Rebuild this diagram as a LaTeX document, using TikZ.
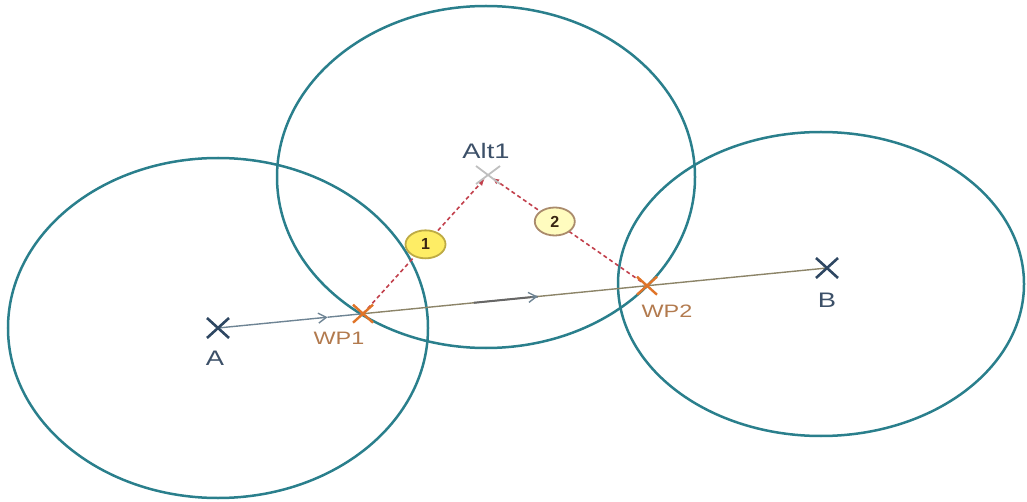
\documentclass[tikz,border=0pt]{standalone}
\usepackage{fontspec}
\setmainfont{Liberation Sans}
\usetikzlibrary{shapes.geometric,arrows.meta,calc}
\definecolor{ring}{HTML}{2A7F8C}
\definecolor{darkx}{HTML}{2E4762}
\definecolor{wpx}{HTML}{E07428}
\definecolor{wptext}{HTML}{B27A4E}
\definecolor{ptext}{HTML}{3C5068}
\definecolor{redd}{HTML}{C2404C}
\definecolor{lineA}{HTML}{6E8494}
\definecolor{lineB}{HTML}{8C8468}
\begin{document}
\begin{tikzpicture}[x=1pt,y=-1pt,
  ringst/.style={draw=ring,line width=2.5pt},
  darkcross/.style={draw=darkx,line width=2.6pt},
  wpcross/.style={draw=wpx,line width=2.4pt},
  altcross/.style={draw=black!25,line width=1.8pt},
  ptlabel/.style={text=ptext,font=\fontsize{21}{21}\selectfont,xscale=1.3,inner sep=0pt},
  wplabel/.style={text=wptext,font=\fontsize{18}{18}\selectfont,xscale=1.3,inner sep=0pt},
  redline/.style={draw=redd,line width=1.6pt,dash pattern=on 4pt off 3pt,-{Latex[length=7pt,width=6pt]},shorten >=5pt},
  badge/.style={ellipse,draw,solid,line width=1.8pt,minimum width=40pt,minimum height=28pt,inner sep=0pt,font=\bfseries\fontsize{16}{16}\selectfont,text=black!70!brown},
  route/.style={line width=1.4pt}
]
\useasboundingbox (0,0) rectangle (1027,502);
% points
\coordinate (A) at (218,328);
\coordinate (B) at (827,268);
\coordinate (WP1) at (363,313.7);
\coordinate (WP2) at (647,285.7);
\coordinate (Alt1) at (488,175);
\coordinate (arr1) at ($(A)!0.18!(B)$);
\coordinate (arr2) at ($(A)!0.525!(B)$);
\coordinate (dk1) at ($(A)!0.42!(B)$);
% circles
\draw[ringst] (218,328) ellipse [x radius=210, y radius=170];
\draw[ringst] (486,177) ellipse [x radius=209, y radius=171];
\draw[ringst] (821,284) ellipse [x radius=203, y radius=152];
% route
\draw[route,lineA,-{Straight Barb[length=8pt,width=10pt]}] (A) -- (arr1);
\draw[route,lineA] (arr1) -- (WP1);
\draw[route,lineB] (WP1) -- (B);
\draw[line width=2pt,black!60] (dk1) -- (arr2);
\draw[route,lineA,-{Straight Barb[length=8pt,width=10pt]}] ($(dk1)!0.9!(arr2)$) -- (arr2);
% red dashed legs
\draw[redline] (WP1) -- (Alt1) node[pos=0.5,badge,fill=yellow!85!orange!60,draw=black!30!yellow!70!brown] (b1) {1};
\draw[redline] (WP2) -- (Alt1) node[pos=0.58,badge,fill=yellow!25,draw=brown!70!black!70] (b2) {2};
% crosses
\draw[darkcross] ($(A)+(-11,-10)$) -- ($(A)+(11,10)$) ($(A)+(-11,10)$) -- ($(A)+(11,-10)$);
\draw[darkcross] ($(B)+(-11,-10)$) -- ($(B)+(11,10)$) ($(B)+(-11,10)$) -- ($(B)+(11,-10)$);
\draw[wpcross] ($(WP1)+(-10,-9)$) -- ($(WP1)+(10,9)$) ($(WP1)+(-10,9)$) -- ($(WP1)+(10,-9)$);
\draw[wpcross] ($(WP2)+(-10,-9)$) -- ($(WP2)+(10,9)$) ($(WP2)+(-10,9)$) -- ($(WP2)+(10,-9)$);
\draw[altcross] ($(Alt1)+(-12,-9)$) -- ($(Alt1)+(12,9)$) ($(Alt1)+(-12,9)$) -- ($(Alt1)+(12,-9)$);
% labels
\node[ptlabel] (lA) at (215,358) {A};
\node[ptlabel] (lB) at (827,300) {B};
\node[ptlabel] (lAlt) at (486,151) {Alt1};
\node[wplabel] (lW1) at (339,338) {WP1};
\node[wplabel] (lW2) at (667,311) {WP2};
\end{tikzpicture}
\end{document}
